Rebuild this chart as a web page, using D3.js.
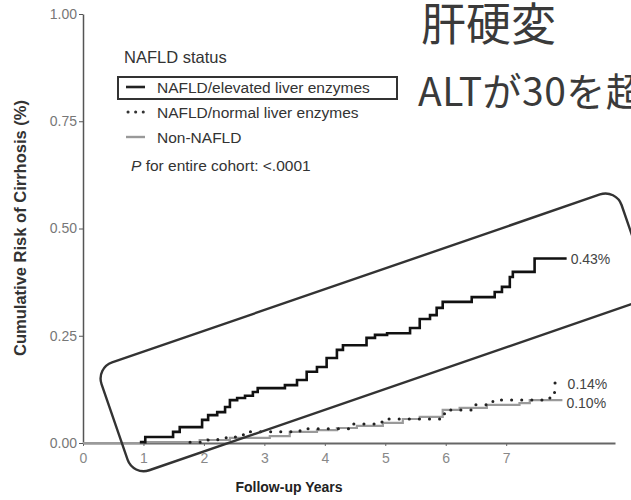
<!DOCTYPE html>
<html>
<head>
<meta charset="utf-8">
<script src="https://cdn.jsdelivr.net/npm/d3@7"></script>
<style>
  body { margin: 0; background: #fff; }
  svg { display: block; font-family: "Liberation Sans", Arial, sans-serif; }
</style>
</head>
<body>
<div id="chart"></div>
<script>
// cumulative risk of cirrhosis (%) by follow-up year, step curves
const elevatedT = [0.94, 1.03, 1.49, 1.60, 1.97, 2.07, 2.22, 2.35, 2.43, 2.55, 2.68, 2.81, 2.89, 3.34, 3.54, 3.70, 3.87, 4.03, 4.20, 4.30, 4.69, 4.83, 5.03, 5.41, 5.57, 5.74, 5.85, 5.95, 6.43, 6.81, 6.93, 7.06, 7.11, 7.47, 8.00];
const elevatedV = [0.002, 0.014, 0.026, 0.037, 0.054, 0.065, 0.072, 0.084, 0.100, 0.105, 0.110, 0.119, 0.128, 0.135, 0.147, 0.166, 0.177, 0.198, 0.217, 0.228, 0.245, 0.252, 0.256, 0.268, 0.289, 0.298, 0.315, 0.329, 0.340, 0.352, 0.364, 0.387, 0.399, 0.430, 0.430];

const normalT = [1.77, 2.07, 2.23, 2.40, 2.56, 2.73, 3.59, 4.41, 4.83, 4.99, 5.98, 6.48, 6.78, 7.72, 7.80, 7.95];
const normalV = [0.002, 0.007, 0.012, 0.014, 0.019, 0.026, 0.033, 0.044, 0.049, 0.056, 0.077, 0.089, 0.100, 0.105, 0.140, 0.140];

const nonT = [0.00, 0.99, 1.93, 2.43, 3.09, 3.42, 3.87, 4.20, 4.53, 4.96, 5.29, 5.57, 5.95, 6.23, 6.68, 7.22, 7.39, 7.93];
const nonV = [0.000, 0.002, 0.007, 0.012, 0.016, 0.026, 0.030, 0.035, 0.040, 0.047, 0.056, 0.061, 0.077, 0.082, 0.089, 0.093, 0.100, 0.100];

const xTicks = [0, 1, 2, 3, 4, 5, 6, 7];
const yTicks = [0, 0.25, 0.5, 0.75, 1.0];

const legendLabels = ['NAFLD/elevated liver enzymes', 'NAFLD/normal liver enzymes', 'Non-NAFLD'];
const endLabels = ['0.43%', '0.14%', '0.10%'];

const width = 631, height = 500;

const svg = d3.select('#chart').append('svg')
    .attr('width', width)
    .attr('height', height);

const x = d3.scaleLinear().domain([0, 8.8]).range([83, 615]);
const y = d3.scaleLinear().domain([0, 1]).range([443, 14]);

// axes
const yAxis = svg.append('g')
    .attr('transform', `translate(${x(0)},0)`)
    .call(d3.axisLeft(y).tickValues(yTicks).tickFormat(d3.format('.2f')).tickSize(4).tickPadding(2).tickSizeOuter(0));
yAxis.select('.domain').attr('stroke', '#555').attr('stroke-width', 1.5);
yAxis.selectAll('.tick line').attr('stroke', '#555');
yAxis.selectAll('.tick text').attr('fill', '#777').style('font-size', '14px').style('font-family', '"Liberation Sans", Arial, sans-serif');

const xAxis = svg.append('g')
    .attr('transform', `translate(0,${y(0)})`)
    .call(d3.axisBottom(x).tickValues(xTicks).tickSize(3).tickPadding(7).tickSizeOuter(0));
xAxis.select('.domain').attr('stroke', '#666').attr('stroke-width', 2);
xAxis.selectAll('.tick line').attr('stroke', '#666');
xAxis.selectAll('.tick text').attr('fill', '#888').style('font-size', '14px').style('font-family', '"Liberation Sans", Arial, sans-serif');

svg.append('text')
    .attr('x', 289)
    .attr('y', 492)
    .attr('text-anchor', 'middle')
    .attr('font-weight', 'bold')
    .attr('font-size', 14)
    .attr('fill', '#222')
    .text('Follow-up Years');

svg.append('text')
    .attr('transform', 'translate(26,228) rotate(-90)')
    .attr('text-anchor', 'middle')
    .attr('font-weight', 'bold')
    .attr('font-size', 16.5)
    .attr('fill', '#333')
    .text('Cumulative Risk of Cirrhosis (%)');

// step curves
const line = d3.line()
    .x(d => x(d[0]))
    .y(d => y(d[1]))
    .curve(d3.curveStepAfter);

const zip = (ts, vs) => ts.map((t, i) => [t, vs[i]]);

svg.append('path')
    .datum(zip(nonT, nonV))
    .attr('d', line)
    .attr('fill', 'none')
    .attr('stroke', '#9a9a9a')
    .attr('stroke-width', 2.2);

svg.append('path')
    .datum(zip(normalT, normalV))
    .attr('d', line)
    .attr('fill', 'none')
    .attr('stroke', '#222')
    .attr('stroke-width', 3)
    .attr('stroke-linecap', 'round')
    .attr('stroke-dasharray', '0.1,10');

svg.append('path')
    .datum(zip(elevatedT, elevatedV))
    .attr('d', line)
    .attr('fill', 'none')
    .attr('stroke', '#111')
    .attr('stroke-width', 2.6);

// end-of-curve labels
const endPos = [
    [elevatedT[elevatedT.length - 1], elevatedV[elevatedV.length - 1], 5],
    [normalT[normalT.length - 1], normalV[normalV.length - 1], 6],
    [nonT[nonT.length - 1], nonV[nonV.length - 1], 8]
];
svg.selectAll('.end-label')
    .data(endLabels)
    .enter()
    .append('text')
    .attr('class', 'end-label')
    .attr('x', (d, i) => x(endPos[i][0]) + 4)
    .attr('y', (d, i) => y(endPos[i][1]) + endPos[i][2])
    .attr('font-size', 14)
    .attr('fill', '#444')
    .text(d => d);

// legend
const legend = svg.append('g');
legend.append('text')
    .attr('x', 124).attr('y', 63)
    .attr('font-size', 16.5)
    .attr('fill', '#333')
    .text('NAFLD status');

legend.append('rect')
    .attr('x', 118).attr('y', 77)
    .attr('width', 279).attr('height', 22)
    .attr('fill', 'none')
    .attr('stroke', '#333')
    .attr('stroke-width', 2);

const rowY = [87, 112, 137];
const rowStyles = [
    { stroke: '#222', width: 2.6, dash: null, cap: 'butt' },
    { stroke: '#333', width: 3, dash: '0.1,7.5', cap: 'round' },
    { stroke: '#999', width: 2.4, dash: null, cap: 'butt' }
];
legendLabels.forEach((lab, i) => {
    legend.append('line')
        .attr('x1', i === 1 ? 128 : 126).attr('x2', i === 1 ? 144 : 145)
        .attr('y1', rowY[i]).attr('y2', rowY[i])
        .attr('stroke', rowStyles[i].stroke)
        .attr('stroke-width', rowStyles[i].width)
        .attr('stroke-linecap', rowStyles[i].cap)
        .attr('stroke-dasharray', rowStyles[i].dash);
    legend.append('text')
        .attr('x', 157).attr('y', rowY[i] + 6)
        .attr('font-size', 15.5)
        .attr('fill', '#333')
        .text(lab);
});

const pText = legend.append('text')
    .attr('x', 131).attr('y', 171)
    .attr('font-size', 15.5)
    .attr('fill', '#333');
pText.append('tspan').attr('font-style', 'italic').text('P');
pText.append('tspan').text(' for entire cohort: <.0001');

// annotations
svg.append('text')
    .attr('x', 421).attr('y', 41)
    .attr('font-family', '"Noto Sans CJK JP", sans-serif')
    .attr('font-size', 45)
    .attr('fill', '#3a3a3a')
    .text('肝硬変');

svg.append('text')
    .attr('x', 418).attr('y', 106)
    .attr('font-family', '"Noto Sans CJK JP", sans-serif')
    .attr('font-size', 39)
    .attr('letter-spacing', 0.5)
    .attr('fill', '#3a3a3a')
    .text('ALTが30を超える');

svg.append('rect')
    .attr('transform', 'translate(96,368) rotate(-19)')
    .attr('width', 550).attr('height', 114)
    .attr('rx', 17).attr('ry', 17)
    .attr('fill', 'none')
    .attr('stroke', '#333')
    .attr('stroke-width', 2.4);
</script>
</body>
</html>
